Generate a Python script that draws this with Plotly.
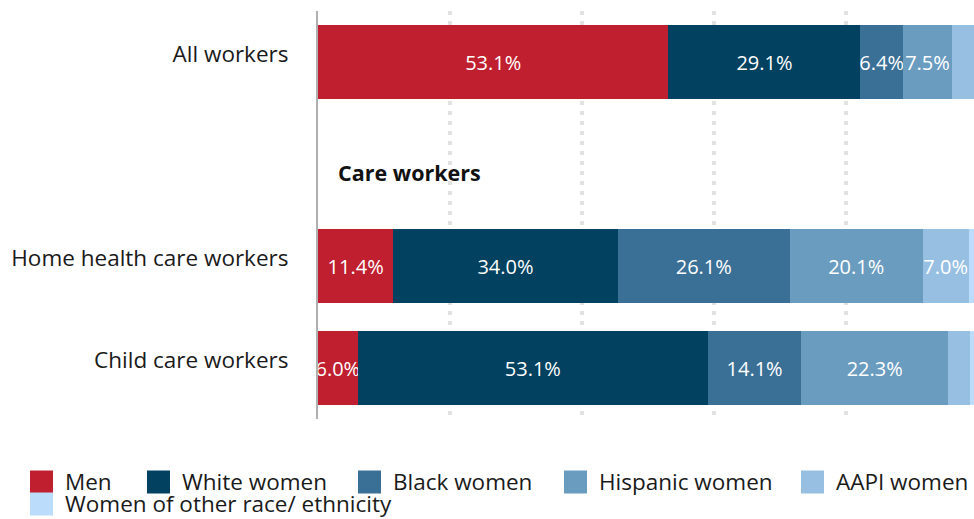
import plotly.graph_objects as go

categories = ["All workers", " ", "Home health care workers", "Child care workers"]
series_names = ["Men", "White women", "Black women", "Hispanic women", "AAPI women",
                "Women of other race/ ethnicity"]
men = [53.1, None, 11.4, 6.0]
white_women = [29.1, None, 34.0, 53.1]
black_women = [6.4, None, 26.1, 14.1]
hispanic_women = [7.5, None, 20.1, 22.3]
aapi_women = [3.3, None, 7.0, 3.3]
other_women = [0.6, None, 1.4, 1.2]
colors = ["#c01f2f", "#02415f", "#3b7096", "#6a9cc0", "#97bfe2", "#bcdcfb"]

FONT = "Open Sans"
LBL = 22.5
W, H = 974, 519
L, R, T, B = 318, 0, 11, 100
PW, PH = W - L - R, H - T - B

def px(x):
    return (x - L) / PW

def py(y):
    return (H - B - y) / PH

fig = go.Figure()
all_series = [men, white_women, black_women, hispanic_women, aapi_women, other_women]
for name, vals, col in zip(series_names, all_series, colors):
    txt = [("%.1f%%" % v) if (v is not None and v >= 5) else "" for v in vals]
    fig.add_trace(go.Bar(
        y=categories, x=vals, name=name, orientation="h",
        marker=dict(color=col, line=dict(width=0)),
        text=txt, textposition="inside", insidetextanchor="middle", textangle=0,
        textfont=dict(color="white", size=20, family=FONT),
        hoverinfo="x+name", showlegend=False, cliponaxis=False,
    ))

fig.update_layout(
    barmode="stack", bargap=0.275,
    width=W, height=H,
    margin=dict(l=L, r=R, t=T, b=B, pad=0),
    paper_bgcolor="white", plot_bgcolor="white",
    font=dict(family=FONT, size=LBL, color="#1a1a1a"),
    uniformtext=dict(minsize=20, mode="show"),
    xaxis=dict(range=[0, 99.4], dtick=20, showticklabels=False, showgrid=True,
               gridcolor="#e2e2e2", gridwidth=4, griddash="4px,6px",
               zeroline=False, showline=False, fixedrange=True),
    yaxis=dict(autorange="reversed", showgrid=False, zeroline=False,
               showline=True, linecolor="#b0b0b0", linewidth=2,
               ticks="", ticklabelstandoff=23, ticklabelshift=8,
               tickfont=dict(size=LBL, color="#1a1a1a", family=FONT)),
)

fig.add_annotation(text="<b>Care workers</b>", xref="paper", yref="y",
                   x=px(336), y=1, xanchor="left", yanchor="middle", yshift=-8,
                   showarrow=False, font=dict(size=21.5, color="#111", family=FONT))

# custom legend
leg_pos = [(30, 482), (147, 482), (358, 482), (564, 482), (801, 482), (30, 504)]
sq = 23
for name, col, (lx, ly) in zip(series_names, colors, leg_pos):
    fig.add_shape(type="rect", xref="paper", yref="paper",
                  x0=px(lx), x1=px(lx + sq), y0=py(ly - sq / 2), y1=py(ly + sq / 2),
                  fillcolor=col, line=dict(width=0))
    fig.add_annotation(text=name, xref="paper", yref="paper",
                       x=px(lx + sq + 10), y=py(ly), xanchor="left", yanchor="middle",
                       showarrow=False, font=dict(size=LBL, color="#1a1a1a", family=FONT))

fig.write_html("out.html")
